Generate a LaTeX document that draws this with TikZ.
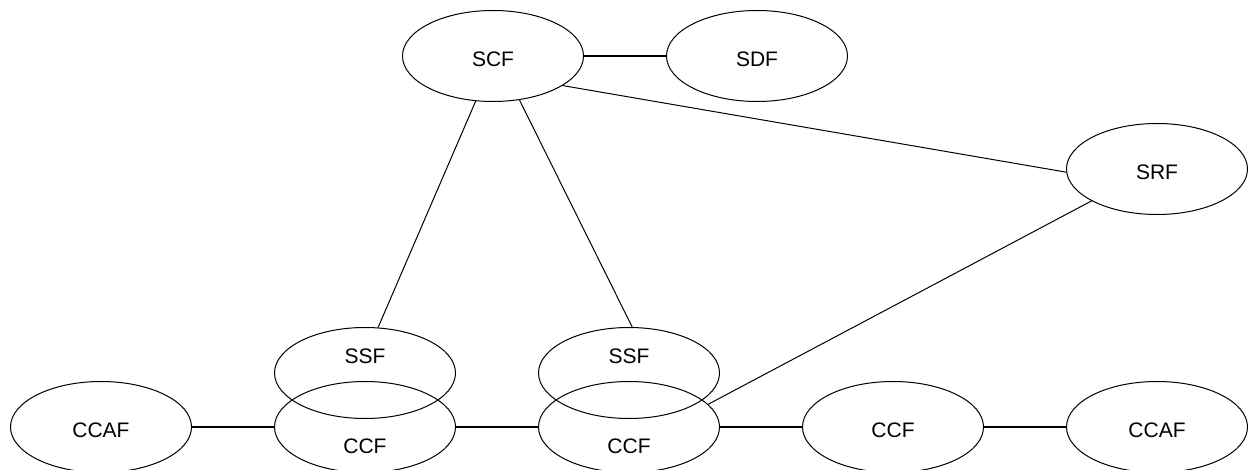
\documentclass[tikz,border=0pt]{standalone}
\usepackage{fontspec}
\setmainfont{Liberation Sans}
\usetikzlibrary{shapes.geometric}
\begin{document}
\begin{tikzpicture}[x=1pt,y=-1pt,
  ell/.style={ellipse,draw,line width=1pt,minimum width=181pt,minimum height=91pt,inner sep=0pt},
  lab/.style={font=\fontsize{21}{25}\selectfont},
  hline/.style={line width=1.7pt},
  dline/.style={line width=1pt}]
\useasboundingbox (0,0) rectangle (1248,470);
\node[ell] (SCF) at (493,56) {};
\node[lab,yshift=-3pt] (tSCF) at (SCF.center) {SCF};
\node[ell] (SDF) at (757,56) {};
\node[lab,yshift=-3pt] (tSDF) at (SDF.center) {SDF};
\node[ell] (SRF) at (1157,169) {};
\node[lab,yshift=-3pt] (tSRF) at (SRF.center) {SRF};
\node[ell] (SSFa) at (365,373) {};
\node[lab,yshift=17pt] (tSSFa) at (SSFa.center) {SSF};
\node[ell] (SSFb) at (629,373) {};
\node[lab,yshift=17pt] (tSSFb) at (SSFb.center) {SSF};
\node[ell] (CCAFa) at (101,427) {};
\node[lab,yshift=-3pt] (tCCAFa) at (CCAFa.center) {CCAF};
\node[ell] (CCFa) at (365,427) {};
\node[lab,yshift=-19pt] (tCCFa) at (CCFa.center) {CCF};
\node[ell] (CCFb) at (629,427) {};
\node[lab,yshift=-19pt] (tCCFb) at (CCFb.center) {CCF};
\node[ell] (CCFc) at (893,427) {};
\node[lab,yshift=-3pt] (tCCFc) at (CCFc.center) {CCF};
\node[ell] (CCAFb) at (1157,427) {};
\node[lab,yshift=-3pt] (tCCAFb) at (CCAFb.center) {CCAF};
\draw[hline] (SCF.east) -- (SDF.west);
\draw[hline] (CCAFa.east) -- (CCFa.west);
\draw[hline] (CCFa.east) -- (CCFb.west);
\draw[hline] (CCFb.east) -- (CCFc.west);
\draw[hline] (CCFc.east) -- (CCAFb.west);
\draw[dline] (SCF.249) -- (SSFa.74);
\draw[dline] (SCF.301.5) -- (SSFb.86);
\draw[dline] (SCF.337) -- (SRF.182);
\draw[dline] (CCFb.16.5) -- (SRF.206);
\end{tikzpicture}
\end{document}
